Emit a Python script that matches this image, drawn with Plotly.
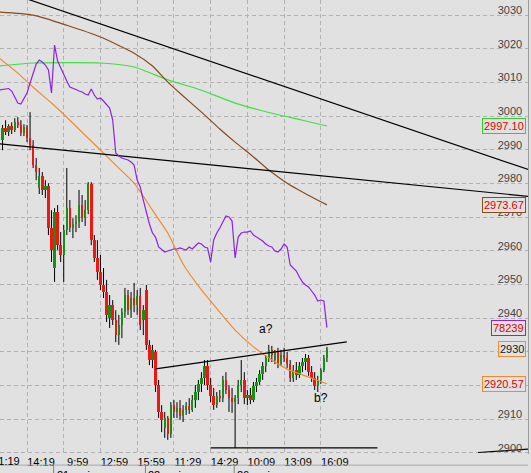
import plotly.graph_objects as go

# 15 min bars, index 1..107 (20 mai afternoon -> 26 mai)
bar_x = list(range(1, 108))

opens = [2992.9, 2996.5, 2995.3, 2997.1, 2995.9, 2998.2, 2997.4, 2995.0, 2996.8, 2993.5,
         2991.4, 2985.5, 2978.7, 2982.2, 2978.1, 2979.2, 2966.8, 2954.9, 2971.5, 2961.7,
         2958.8, 2966.2, 2972.7, 2966.8, 2968.0, 2968.6, 2973.6, 2969.7, 2972.1, 2979.8,
         2963.2, 2957.9, 2953.7, 2949.9, 2947.8, 2940.1, 2943.9, 2939.5, 2935.0, 2938.0,
         2941.8, 2946.9, 2942.4, 2946.0, 2943.9, 2946.6, 2939.5, 2948.4, 2932.1, 2927.6,
         2930.0, 2920.2, 2912.2, 2907.4, 2910.4, 2905.6, 2914.2, 2912.2, 2913.4, 2911.0,
         2912.8, 2914.0, 2912.8, 2915.7, 2918.1, 2920.5, 2922.3, 2925.8, 2920.2, 2916.9,
         2914.2, 2916.9, 2916.3, 2921.7, 2918.7, 2916.3, 2915.1, 2916.3, 2920.2, 2921.7,
         2916.3, 2917.2, 2915.7, 2919.9, 2921.1, 2923.4, 2925.8, 2928.2, 2930.6, 2927.6,
         2930.0, 2926.4, 2929.1, 2928.2, 2926.4, 2922.3, 2924.6, 2923.2, 2925.8, 2927.0,
         2928.2, 2924.0, 2922.3, 2919.9, 2921.7, 2924.6, 2928.2]
highs = [2997.4, 2998.8, 2997.6, 2998.2, 2999.4, 2999.7, 2998.8, 2997.6, 2997.4, 3001.2,
         2992.9, 2987.6, 2984.6, 2983.4, 2981.0, 2980.1, 2972.1, 2972.7, 2973.6, 2965.6,
         2967.7, 2984.6, 2975.1, 2969.7, 2970.6, 2978.1, 2976.6, 2975.1, 2980.4, 2980.4,
         2964.7, 2963.2, 2958.8, 2954.9, 2951.4, 2946.9, 2945.4, 2942.4, 2941.0, 2943.0,
         2949.0, 2948.4, 2947.8, 2950.5, 2948.4, 2949.0, 2943.9, 2949.9, 2933.5, 2932.1,
         2930.6, 2921.7, 2914.2, 2912.2, 2911.0, 2915.1, 2915.7, 2915.1, 2915.7, 2914.2,
         2915.1, 2916.3, 2917.2, 2920.2, 2921.7, 2924.0, 2927.6, 2927.6, 2922.3, 2919.3,
         2918.1, 2918.7, 2922.9, 2924.0, 2920.2, 2919.3, 2917.2, 2921.7, 2927.6, 2924.0,
         2918.7, 2919.3, 2921.1, 2922.3, 2924.6, 2927.0, 2929.1, 2932.1, 2931.8, 2930.6,
         2931.2, 2930.6, 2931.2, 2930.0, 2927.6, 2926.1, 2927.0, 2927.0, 2928.2, 2929.4,
         2929.1, 2925.8, 2924.0, 2922.9, 2925.2, 2929.1, 2931.5]
lows = [2989.9, 2994.4, 2994.1, 2994.7, 2995.3, 2996.5, 2994.1, 2994.1, 2992.3, 2989.9,
        2984.6, 2981.0, 2976.9, 2976.6, 2975.7, 2964.7, 2956.7, 2950.8, 2960.3, 2956.7,
        2950.8, 2964.7, 2965.6, 2963.8, 2965.6, 2966.8, 2968.6, 2967.4, 2970.9, 2961.7,
        2956.7, 2951.4, 2948.4, 2946.0, 2938.9, 2937.1, 2938.0, 2932.9, 2932.1, 2934.1,
        2940.1, 2941.0, 2940.1, 2941.8, 2941.0, 2936.5, 2935.0, 2930.6, 2926.1, 2925.2,
        2918.1, 2910.4, 2906.2, 2904.5, 2903.9, 2904.5, 2910.4, 2910.4, 2909.8, 2909.2,
        2911.3, 2911.6, 2912.2, 2913.4, 2915.7, 2918.1, 2920.2, 2918.7, 2915.1, 2912.8,
        2913.4, 2915.1, 2915.1, 2917.5, 2912.2, 2911.9, 2901.5, 2914.5, 2918.1, 2914.5,
        2914.2, 2914.5, 2915.1, 2918.1, 2920.2, 2921.7, 2924.0, 2927.0, 2927.0, 2926.4,
        2925.2, 2925.8, 2927.0, 2925.2, 2921.1, 2921.1, 2921.7, 2922.3, 2924.0, 2924.6,
        2922.9, 2921.1, 2918.7, 2918.1, 2920.5, 2924.0, 2927.0]
closes = [2996.5, 2995.3, 2997.1, 2995.9, 2998.2, 2997.4, 2995.0, 2996.8, 2993.5, 2991.4,
          2985.5, 2983.4, 2982.2, 2978.1, 2979.2, 2966.8, 2960.3, 2971.5, 2961.7, 2958.8,
          2966.2, 2972.7, 2966.8, 2968.0, 2968.6, 2973.6, 2969.7, 2972.1, 2979.8, 2963.2,
          2957.9, 2953.7, 2949.9, 2947.8, 2941.0, 2943.9, 2939.5, 2935.0, 2938.0, 2941.8,
          2946.9, 2942.4, 2946.0, 2943.9, 2946.6, 2938.0, 2942.4, 2932.1, 2927.6, 2930.6,
          2920.2, 2912.2, 2909.8, 2910.4, 2905.6, 2914.2, 2912.2, 2913.4, 2911.0, 2912.8,
          2914.0, 2912.8, 2915.7, 2918.1, 2920.5, 2922.3, 2925.8, 2920.2, 2916.9, 2914.2,
          2916.9, 2916.3, 2921.7, 2918.7, 2916.3, 2915.1, 2916.3, 2920.2, 2921.7, 2916.3,
          2917.2, 2915.7, 2919.9, 2921.1, 2923.4, 2925.8, 2928.2, 2930.6, 2929.1, 2930.0,
          2926.4, 2929.1, 2928.2, 2926.4, 2922.3, 2924.6, 2923.2, 2925.8, 2927.0, 2928.2,
          2924.0, 2922.3, 2919.9, 2921.7, 2924.6, 2928.2, 2930.9]

# moving averages, read at a few bar positions
ma_green_x = [0, 11, 22, 33, 44, 55, 66, 77, 88, 99, 107]
ma_green = [3014.9, 3015.8, 3015.9, 3015.8, 3014.6, 3010.8, 3007.7, 3003.9, 3001.1, 2998.8, 2997.1]

ma_brown_x = [0, 11, 22, 33, 44, 50, 55, 60, 66, 72, 77, 83, 88, 94, 99, 107]
ma_brown = [3030.9, 3030.0, 3027.0, 3023.5, 3018.7, 3014.9, 3010.1, 3006.0, 3001.2, 2996.2,
            2992.3, 2987.9, 2984.0, 2980.1, 2977.5, 2973.67]

ma_orange_x = [0, 6, 11, 17, 22, 33, 39, 44, 50, 55, 60, 66, 72, 77, 83, 88, 94, 99, 107]
ma_orange = [3017.2, 3012.8, 3008.6, 3003.9, 2999.7, 2989.9, 2984.6, 2980.1, 2972.1, 2965.3,
             2956.1, 2948.4, 2941.8, 2936.5, 2931.5, 2928.2, 2924.9, 2923.2, 2920.57]

# indicator (purple), one value per bar 0..107
ind_x = list(range(0, 108))
ind = [84521, 84534, 84547, 84560, 84494, 84336, 84177, 84151, 84283, 84441,
       84706, 84943, 85208, 85313, 85261, 85181, 85049, 84441, 85710, 85287,
       85102, 84917, 84758, 84600, 84573, 84534, 84494, 84468, 84415, 84388,
       84547, 84388, 84283, 84309, 84230, 84151, 84045, 83728, 82855, 82776,
       82723, 82697, 82670, 82618, 82538, 82142, 81957, 81613, 81270, 80979,
       80741, 80635, 80371, 80292, 80239, 80265, 80292, 80318, 80318, 80345,
       80318, 80292, 80371, 80318, 80397, 80477, 80450, 80371, 80345, 79975,
       80556, 80741, 80873, 81032, 81190, 81164, 81058, 80080, 80635, 80741,
       80767, 80767, 80794, 80688, 80635, 80582, 80530, 80450, 80397, 80371,
       80265, 80239, 80318, 80450, 80371, 79895, 79816, 79737, 79578, 79446,
       79367, 79314, 79208, 79102, 78944, 78970, 78944, 78239]

# drawn lines
trend_hi_x = [0, 174]
trend_hi = [3037.6, 2983.8]
trend_lo_x = [0, 174]
trend_lo = [2991.8, 2976.1]
neck_x = [51, 113.5]
neck = [2925.0, 2933.0]
support_x = [69, 123.5]
support = [2901.5, 2901.5]
edge_x = [156.4, 174]
edge = [2900.15, 2901.2]

time_ticks = [9, 21, 33, 45, 57, 69, 81, 93, 105]
time_labels = ["14:19", "9:59", "12:59", "15:59", "11:29", "14:29", "10:09", "13:09", "16:09"]
day_starts = [18, 48, 77]
day_labels = ["21 mai", "22 mai", "26 mai"]

BG = "#e1e1e1"
GRID = "#b2b2b2"
UP = "#129212"
DOWN = "#f41414"
FONT = "Liberation Sans, Arial, sans-serif"

fig = go.Figure()

# wicks
wx, wy = [], []
for x, h, l in zip(bar_x, highs, lows):
    wx += [x, x, None]
    wy += [l, h, None]
fig.add_trace(go.Scatter(x=wx, y=wy, mode="lines", line=dict(color="black", width=1),
                         hoverinfo="skip", showlegend=False))

# bodies (overlay axis so they sit above the wicks)
body_base = [min(o, c) for o, c in zip(opens, closes)]
body_h = [abs(c - o) for o, c in zip(opens, closes)]
body_col = [UP if c >= o else DOWN for o, c in zip(opens, closes)]
fig.add_trace(go.Bar(x=bar_x, y=body_h, base=body_base, width=0.8,
                     marker=dict(color=body_col, line=dict(width=0)),
                     yaxis="y2", showlegend=False))

for xs, ys, col in [(ma_green_x, ma_green, "#3ee03e"),
                    (ma_brown_x, ma_brown, "#8a4a1c"),
                    (ma_orange_x, ma_orange, "#f28a2e")]:
    fig.add_trace(go.Scatter(x=xs, y=ys, mode="lines", yaxis="y3",
                             line=dict(color=col, width=1.2, shape="spline", smoothing=0.6),
                             showlegend=False))

for xs, ys in [(trend_hi_x, trend_hi), (trend_lo_x, trend_lo), (neck_x, neck),
               (support_x, support), (edge_x, edge)]:
    fig.add_trace(go.Scatter(x=xs, y=ys, mode="lines", yaxis="y3",
                             line=dict(color="black", width=1.2), showlegend=False))

fig.add_trace(go.Scatter(x=ind_x, y=ind, mode="lines", yaxis="y4",
                         line=dict(color="#8c22e6", width=1.2), showlegend=False))

yr = [2899.7, 3034.5]
fig.update_layout(
    width=531, height=473,
    margin=dict(l=0, r=3, t=0, b=19),
    paper_bgcolor=BG, plot_bgcolor=BG,
    font=dict(family=FONT, size=11, color="black"),
    bargap=0,
    xaxis=dict(range=[0.176, 172.7], tickvals=time_ticks, ticktext=time_labels,
               showgrid=True, gridcolor=GRID, griddash="4px,3px", gridwidth=1,
               zeroline=False, ticks="", ticklabelshift=14, showline=False,
               tickfont=dict(size=11)),
    yaxis=dict(range=yr, side="right", dtick=10, tick0=2900,
               showgrid=True, gridcolor=GRID, griddash="4px,3px", gridwidth=1,
               zeroline=False, ticks="", ticklabelposition="inside",
               ticklabelshift=-5, ticklabelstandoff=5, ticklabeloverflow="allow",
               showline=True, linecolor="#9c9c9c", linewidth=1,
               tickfont=dict(size=11)),
    yaxis2=dict(range=yr, overlaying="y", visible=False),
    yaxis3=dict(range=yr, overlaying="y", visible=False),
    yaxis4=dict(range=[74900, 86900], overlaying="y", visible=False),
)

# value boxes on the right
boxes = [(2997.10, "y", "2997.10", "#30d030", "#e00000"),
         (2973.67, "y", "2973.67", "#8a4a1c", "#e00000"),
         (78239, "y4", "78239", "#8c22e6", "#e00000"),
         (2930.9, "y", "2930", "#f28a2e", "#202020"),
         (2920.57, "y", "2920.57", "#f28a2e", "#e00000")]
for val, yref, txt, bcol, tcol in boxes:
    fig.add_annotation(x=1, xref="paper", xanchor="right", xshift=-2,
                       y=val, yref=yref, yanchor="middle", text=txt, showarrow=False,
                       font=dict(size=11, color=tcol), bordercolor=bcol, borderwidth=1,
                       borderpad=1, bgcolor=BG)

fig.add_annotation(x=87.1, y=2936.8, text="a?", showarrow=False, font=dict(size=12))
fig.add_annotation(x=105.1, y=2916.3, text="b?", showarrow=False, font=dict(size=12))

# first time label cut by the left edge
fig.add_annotation(x=0, xref="paper", xanchor="left", xshift=-9, y=-0.015, yref="paper",
                   yanchor="middle", text="11:19", showarrow=False, font=dict(size=11))

# date row (cut by bottom edge)
fig.add_shape(type="line", xref="paper", yref="paper", x0=0, x1=1, y0=-0.0245, y1=-0.0245,
              line=dict(color="#a8a8a8", width=1))
for d, lab in zip(day_starts, day_labels):
    fig.add_shape(type="line", xref="x", yref="paper", x0=d - 0.3, x1=d - 0.3,
                  y0=-0.0245, y1=-0.05, line=dict(color="#808080", width=1))
    fig.add_annotation(x=d - 0.3, xanchor="left", xshift=1, y=-0.028, yref="paper",
                       yanchor="top", text=lab, showarrow=False, font=dict(size=11))

fig.write_html("out.html", config={"displayModeBar": False},
               post_script="document.body.style.margin='0';")
